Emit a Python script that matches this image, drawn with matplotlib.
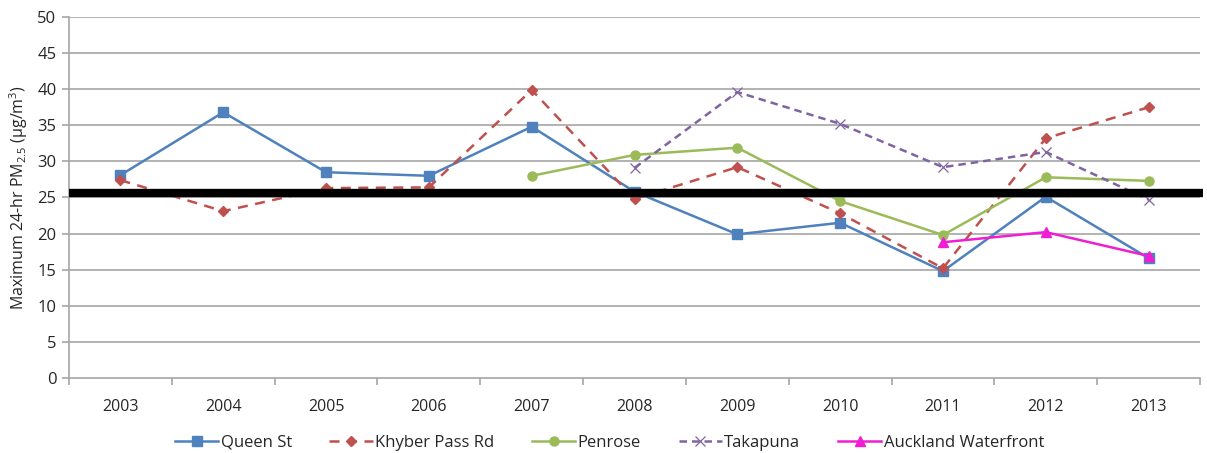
import numpy as np
import matplotlib
matplotlib.use("Agg")
import matplotlib.pyplot as plt

plt.rcParams['font.family'] = ['Open Sans', 'DejaVu Sans']
plt.rcParams['mathtext.fontset'] = 'custom'
plt.rcParams['mathtext.rm'] = 'Open Sans'
plt.rcParams['mathtext.it'] = 'Open Sans'

years = ['2003', '2004', '2005', '2006', '2007', '2008', '2009', '2010', '2011', '2012', '2013']

queen_st = [28.1, 36.8, 28.5, 28.0, 34.8, 25.8, 19.9, 21.5, 14.8, 25.1, 16.6]
khyber_pass = [27.4, 23.1, 26.3, 26.4, 39.9, 24.8, 29.2, 22.8, 15.2, 33.2, 37.5]
penrose = [None, None, None, None, 28.0, 30.9, 31.9, 24.5, 19.8, 27.8, 27.3]
takapuna = [None, None, None, None, None, 29.1, 39.6, 35.2, 29.2, 31.3, 24.7]
waterfront = [None, None, None, None, None, None, None, None, 18.8, 20.2, 16.9]

guideline = 25.6

def arr(v):
    return np.array([np.nan if x is None else x for x in v], dtype=float)

fig = plt.figure(figsize=(12.07, 4.53), dpi=100)
ax = fig.add_axes([0.0572, 0.1656, 0.9370, 0.7969])

x = np.arange(len(years))
grid_c = '#A6A6A6'
text_c = '#262626'

ax.set_xlim(-0.5, len(years) - 0.5)
ax.set_ylim(0, 50)
ax.set_yticks(np.arange(0, 51, 5))
for yv in np.arange(5, 51, 5):
    ax.axhline(yv, color=grid_c, lw=1.2, zorder=0)

ax.plot(x, arr(queen_st), color='#4F81BD', lw=1.8, marker='s', ms=6.5,
        label='Queen St', zorder=3)
ax.plot(x, arr(khyber_pass), color='#C0504D', lw=1.8, ls=(0, (4, 3)), marker='D', ms=5.5,
        label='Khyber Pass Rd', zorder=3)
ax.plot(x, arr(penrose), color='#9BBB59', lw=1.8, marker='o', ms=6.5,
        label='Penrose', zorder=3)
ax.plot(x, arr(takapuna), color='#8064A2', lw=1.8, ls=(0, (3, 2)), marker='x', ms=7,
        mew=0.9, label='Takapuna', zorder=3)
ax.plot(x, arr(waterfront), color='#F01ED2', lw=1.8, marker='^', ms=7,
        label='Auckland Waterfront', zorder=4)

ax.plot([-0.5, len(years) - 0.47], [guideline, guideline], color='black', lw=6,
        solid_capstyle='butt', zorder=5, clip_on=False)

ax.set_xticks(x)
ax.set_xticklabels(years)
ax.set_xticks(np.arange(-0.5, len(years), 1.0), minor=True)
ax.tick_params(axis='x', which='major', length=0, pad=15, labelsize=11.5, colors=text_c)
ax.tick_params(axis='x', which='minor', length=5, width=1.2, color=grid_c, direction='out')
ax.tick_params(axis='y', length=5, width=1.2, color=grid_c, labelsize=12, pad=4,
               labelcolor=text_c)

for side in ('top', 'right'):
    ax.spines[side].set_visible(False)
for side in ('left', 'bottom'):
    ax.spines[side].set_color(grid_c)
    ax.spines[side].set_linewidth(1.2)

ax.set_ylabel('Maximum 24-hr PM$_{2.5}$ (µg/m$^{3}$)', fontsize=11.5, color=text_c,
              labelpad=5)

leg = fig.legend(loc='lower center', bbox_to_anchor=(0.505, -0.028), ncol=5, frameon=False,
                 fontsize=12, handlelength=2.6, columnspacing=2.25, handletextpad=0.15)
for t in leg.get_texts():
    t.set_color(text_c)

fig.savefig('out.png', dpi=100)
